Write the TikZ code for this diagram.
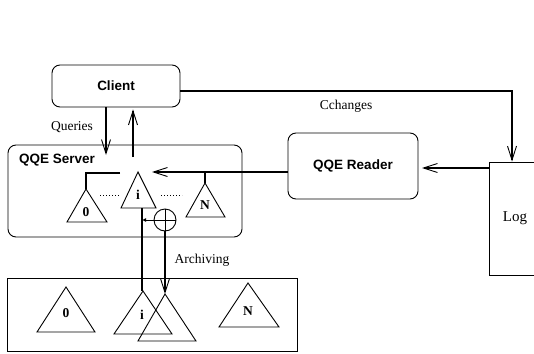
\documentclass[tikz,border=0pt]{standalone}
\usepackage{fontspec}
\setmainfont{Liberation Serif}
\newfontfamily\hvfont{Liberation Sans}
\usetikzlibrary{arrows.meta}
\begin{document}
\begin{tikzpicture}[x=1pt,y=-1pt,
  boxlab/.style={font=\hvfont\bfseries\fontsize{13.5}{15}\selectfont},
  lab/.style={font=\fontsize{13.5}{15}\selectfont, inner sep=0pt},
  trilab/.style={font=\bfseries\fontsize{13.5}{15}\selectfont, inner sep=0pt},
  frame/.style={draw, line width=0.9pt, inner sep=0pt},
  tri/.style={draw, line width=0.9pt, line join=miter},
  heavy/.style={line width=1.8pt},
  arr/.style={-{Straight Barb[length=14pt,width=9pt,line width=0.9pt]}},
  smallarr/.style={-{Latex[length=4pt,width=4pt]}},
  dotline/.style={line width=0.5pt, dash pattern=on 1pt off 2pt},
]
\useasboundingbox (0,0) rectangle (534,353);

% boxes
\node[frame, rounded corners=8pt, minimum width=128pt, minimum height=42pt, boxlab] (client) at (116,86) {Client};
\node[frame, rounded corners=8pt, minimum width=234pt, minimum height=92pt] (server) at (125,191) {};
\node[boxlab, anchor=west, inner sep=0pt] (srvlab) at (19,160) {QQE Server};
\node[frame, rounded corners=8pt, minimum width=130pt, minimum height=66pt, boxlab] (reader) at (353,166) {QQE Reader};
\node[frame, minimum width=52pt, minimum height=113pt, font=\fontsize{15}{17}\selectfont] (log) at (515,218.5) {Log};
\node[frame, minimum width=290pt, minimum height=73pt] (archive) at (152,314.5) {};

% labels
\node[lab] (queries) at (72,127) {Queries};
\node[lab] (cchanges) at (346,106) {Cchanges};
\node[lab] (archiving) at (202,260) {Archiving};

% server triangles
\coordinate (s0) at (86,189);
\coordinate (si) at (138,172);
\coordinate (sN) at (205,183);
\draw[tri] (s0) -- (67,222) -- (107,222) -- cycle;
\draw[tri] (si) -- (121,208) -- (156,208) -- cycle;
\draw[tri] (sN) -- (186,217) -- (225,217) -- cycle;
\node[trilab] (l0) at (86,212) {0};
\node[trilab] (li) at (138,195) {i};
\node[trilab] (lN) at (205,205) {N};
\coordinate (d1a) at (100,195); \coordinate (d1b) at (119,195);
\coordinate (d2a) at (161,195); \coordinate (d2b) at (182,195);
\draw[dotline] (d1a) -- (d1b);
\draw[dotline] (d2a) -- (d2b);

% archive triangles
\coordinate (a0) at (66,287);
\coordinate (ai) at (143,291);
\coordinate (ax) at (165,294);
\coordinate (aN) at (248,283);
\draw[tri] (a0) -- (37,332) -- (95,332) -- cycle;
\draw[tri] (ai) -- (114,334) -- (172,334) -- cycle;
\draw[tri] (ax) -- (138,341) -- (196,341) -- cycle;
\draw[tri] (aN) -- (219,327) -- (279,327) -- cycle;
\node[trilab] (b0) at (66,313) {0};
\node[trilab] (bi) at (142,315) {i};
\node[trilab] (bN) at (248,311) {N};

% oplus
\node[draw, circle, line width=0.9pt, minimum size=22pt, inner sep=0pt] (plus) at (165,220) {};
\draw[line width=0.9pt] (plus.north) -- (plus.south);
\draw[line width=0.9pt] (plus.west) -- (plus.east);

% connectors
\coordinate (c1) at (512,91);
\draw[heavy, arr] (client.east |- c1) -- (c1) -- (c1 |- log.north);
\coordinate (q1) at (106,155);
\draw[heavy, arr] (client.south -| q1) -- (q1);
\coordinate (u1) at (133,157);
\draw[heavy, arr] (u1) -- ([yshift=-2pt]client.south -| u1);
\coordinate (r1) at (422,168);
\draw[heavy, arr] (log.west |- r1) -- (r1);
\coordinate (r2) at (152,172);
\draw[heavy, arr] (reader.west |- r2) -- (r2);
\coordinate (nb) at (205,172);
\draw[heavy] (nb) -- (sN);
\coordinate (z1) at (120,173);
\coordinate (z2) at (86,173);
\draw[heavy] (z1) -- (z2) -- (s0);
\coordinate (v1) at (142,208);
\draw[heavy] (v1) -- (v1 |- ai);
\coordinate (v2) at (142,220);
\draw[line width=1pt, smallarr] (plus.west) -- (v2);
\draw[heavy, arr] (plus.south) -- (ax);
\end{tikzpicture}
\end{document}
